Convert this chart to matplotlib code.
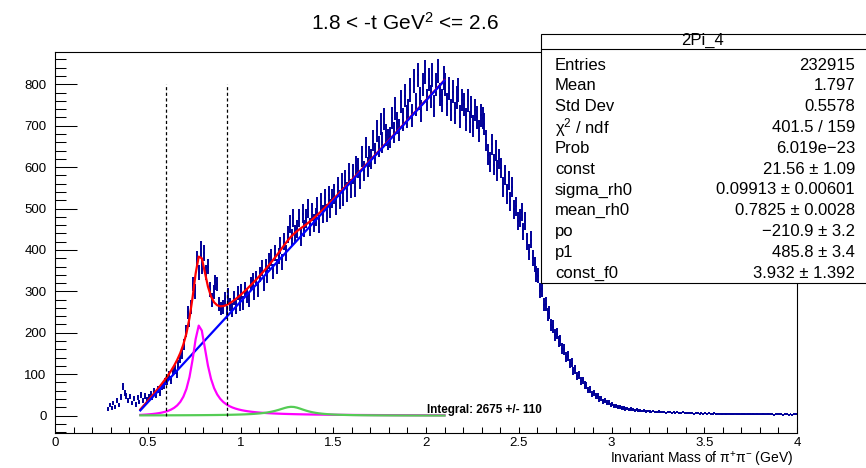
import numpy as np
import matplotlib
matplotlib.use("Agg")
import matplotlib.pyplot as plt
from matplotlib.patches import Rectangle
from matplotlib.lines import Line2D
from matplotlib.ticker import MultipleLocator

# ---- histogram: 0.01 GeV bins starting at 0.28 GeV ----
first_edge = 0.28
bin_width = 0.01
counts = [
    16, 25,
    18, 30, 20, 36, 25, 45, 70, 55, 48, 36,            # 0.30
    46, 30, 42, 27, 44, 33, 50, 36, 47, 38,            # 0.40
    45, 52, 44, 58, 50, 63, 54, 70, 74, 82,            # 0.50
    84, 98, 86, 108, 112, 100, 124, 138, 150, 172,     # 0.60
    205, 250, 228, 262, 318, 300, 378, 346, 402, 362,  # 0.70
    392, 345, 360, 305, 280, 298, 322, 318, 270, 258,  # 0.80
    262, 282, 250, 290, 268, 255, 284, 262, 296, 270,  # 0.90
    300, 272, 306, 288, 280, 318, 326, 296, 330, 305,  # 1.00
    340, 356, 318, 360, 338, 374, 382, 348, 392, 360,  # 1.10
    386, 410, 372, 420, 392, 438, 462, 430, 478, 440,  # 1.20
    450, 478, 430, 488, 452, 476, 500, 455, 492, 465,  # 1.30
    480, 505, 462, 515, 486, 525, 490, 532, 500, 524,  # 1.40
    535, 508, 552, 522, 562, 528, 570, 540, 585, 548,  # 1.50
    584, 552, 602, 598, 570, 625, 590, 648, 600, 626,  # 1.60
    620, 664, 632, 688, 650, 705, 660, 716, 678, 666,  # 1.70
    672, 718, 684, 742, 706, 690, 758, 715, 772, 722,  # 1.80
    738, 786, 725, 808, 752, 822, 765, 735, 800, 830,  # 1.90
    762, 812, 770, 822, 748, 800, 832, 775, 760, 815,  # 2.00
    800, 752, 790, 738, 782, 730, 768, 786, 722, 762,  # 2.10
    752, 715, 760, 708, 745, 700, 738, 720, 688, 725,  # 2.20
    718, 705, 665, 630, 612, 655, 606, 640, 592, 620,  # 2.30
    598, 552, 582, 535, 568, 518, 552, 498, 505, 470,  # 2.40
    478, 492, 445, 470, 420, 395, 425, 380, 365, 342,  # 2.50
    338, 302, 305, 268, 270, 245, 248, 218, 215, 195,  # 2.60
    198, 178, 182, 162, 160, 142, 145, 125, 128, 108,  # 2.70
    112, 96, 98, 84, 85, 74, 72, 62, 63, 53,           # 2.80
    55, 47, 48, 40, 42, 35, 36, 31, 31, 26,            # 2.90
    28, 23, 24, 21, 21, 18, 19, 16, 17, 14,            # 3.00
    16, 14, 13, 14, 12, 12, 11, 12, 10, 11,            # 3.10
    10, 9, 11, 9, 8, 10, 9, 8, 9, 7,                   # 3.20
    8, 9, 7, 8, 7, 8, 6, 7, 8, 6,                      # 3.30
    7, 6, 7, 6, 5, 7, 6, 5, 6, 5,                      # 3.40
    6, 5, 6, 5, 5, 6, 4, 5, 5, 4,                      # 3.50
    5, 4, 5, 5, 4, 4, 5, 4, 4, 3,                      # 3.60
    4, 4, 3, 4, 4, 3, 4, 3, 4, 3,                      # 3.70
    3, 4, 3, 3, 4, 3, 3, 2, 3, 3,                      # 3.80
    3, 3, 2, 3, 3, 2, 3, 2, 3, 3,                      # 3.90
]

# ---- fit parameters ----
P0, P1 = -210.9, 485.8
RHO_CONST, RHO_SIGMA, RHO_MEAN = 21.56, 0.09913, 0.7825
F0_CONST, F0_MASS, F0_WIDTH = 3.932, 1.275, 0.185
FIT_LO, FIT_HI = 0.46, 2.1
WINDOW = [0.6, 0.925]
M_PI = 0.13957

stat_labels = ["Entries", "Mean", "Std Dev", r"$\mathregular{\chi^{2}}$ / ndf", "Prob",
               "const", "sigma_rh0", "mean_rh0", "po", "p1", "const_f0"]
stat_values = ["232915", "1.797", "0.5578", "401.5 / 159", "6.019e\u221223",
               "21.56 \u00b1 1.09", "0.09913 \u00b1 0.00601", "0.7825 \u00b1 0.0028",
               "\u2212210.9 \u00b1 3.2", "485.8 \u00b1 3.4", "3.932 \u00b1 1.392"]
integral_text = "Integral: 2675 +/- 110"

plt.rcParams["font.family"] = ["Liberation Sans", "DejaVu Sans"]
plt.rcParams["mathtext.fontset"] = "custom"
plt.rcParams["mathtext.rm"] = "Liberation Sans"
plt.rcParams["mathtext.it"] = "Liberation Sans"

W, H = 866, 468
fig = plt.figure(figsize=(W / 100, H / 100), dpi=100)


def fx(px):
    return px / W


def fy(py):
    return 1 - py / H


L, R, T, B = 55, 797, 52, 433
ax = fig.add_axes([fx(L), fy(B), (R - L) / W, (B - T) / H])

counts_arr = np.array(counts, dtype=float)
centers = first_edge + bin_width * (np.arange(len(counts_arr)) + 0.5)
navy = "#000099"
ax.errorbar(centers, counts_arr, xerr=bin_width / 2, yerr=np.sqrt(counts_arr),
            fmt="none", ecolor=navy, elinewidth=1.4, capsize=0, zorder=2)


def bw_pwave(m, m0, g0):
    q = np.sqrt(np.clip(m ** 2 / 4 - M_PI ** 2, 0, None))
    q0 = np.sqrt(m0 ** 2 / 4 - M_PI ** 2)
    g = g0 * (q / q0) ** 3 * (m0 / m)
    return (m0 * g) * (m0 * g0) / ((m ** 2 - m0 ** 2) ** 2 + (m0 * g) ** 2)


def bw_const(m, m0, g0):
    return (m0 * g0) ** 2 / ((m ** 2 - m0 ** 2) ** 2 + (m0 * g0) ** 2)


m = np.linspace(FIT_LO, FIT_HI, 100)
bkg = P0 + P1 * m
rho = RHO_CONST / RHO_SIGMA * bw_pwave(m, RHO_MEAN, RHO_SIGMA)
f0 = F0_CONST / F0_WIDTH * bw_const(m, F0_MASS, F0_WIDTH)
total = bkg + rho + f0

ax.plot(m, total, color="#ff0000", lw=1.6, zorder=3)
ax.plot(m, bkg, color="#0000ff", lw=1.6, zorder=4)
ax.plot(m, rho, color="#ff00ff", lw=1.6, zorder=4)
ax.plot(m, f0, color="#55cc55", lw=1.6, zorder=4)

ax.vlines(WINDOW, 0, 800, colors="black", linestyles=(0, (2.5, 2)), lw=0.9, zorder=5)

ax.text(2.003, 6.5, integral_text, fontsize=8.4, fontweight="bold", ha="left",
        va="baseline", zorder=6)

ax.set_xlim(0, 4)
ax.set_ylim(-42, 878)
ax.xaxis.set_minor_locator(MultipleLocator(0.1))
ax.yaxis.set_minor_locator(MultipleLocator(20))
ax.set_xticks(np.arange(0, 4.01, 0.5))
ax.set_xticklabels(["0", "0.5", "1", "1.5", "2", "2.5", "3", "3.5", "4"])
ax.set_yticks(np.arange(0, 801, 100))
ax.set_yticklabels([str(v) for v in range(0, 801, 100)])
ax.tick_params(axis="both", which="both", direction="in", top=False, right=False,
               width=0.75, labelsize=9.5)
ax.tick_params(axis="x", which="both", length=4.2, pad=3)
ax.tick_params(axis="y", which="major", length=16, pad=6)
ax.tick_params(axis="y", which="minor", length=8)
for s in ax.spines.values():
    s.set_linewidth(0.8)

# title
fig.text(fx(405), fy(23), r"1.8 < -t GeV$\mathregular{^{2}}$ <= 2.6", fontsize=15,
         ha="center", va="center")

# axis title
fig.text(fx(793), fy(459.5), r"Invariant Mass of $\mathregular{\pi^{+}\pi^{-}}$ (GeV)",
         fontsize=10, ha="right", va="center")

# statistics box
bx0, by0, by1 = 541, 34, 283
fig.patches.append(Rectangle((fx(bx0), fy(by1)), (W + 5 - bx0) / W, (by1 - by0) / H,
                             transform=fig.transFigure, facecolor="white",
                             edgecolor="black", lw=0.8, zorder=10))
fig.lines.append(Line2D([fx(bx0), 1.0], [fy(49.3), fy(49.3)], transform=fig.transFigure,
                        color="black", lw=0.8, zorder=11))
fig.text(fx(702), fy(40.5), "2Pi_4", fontsize=12, ha="center", va="center", zorder=12)
row0, step = 65.0, 20.83
for i, (lab, val) in enumerate(zip(stat_labels, stat_values)):
    yy = fy(row0 + i * step)
    fig.text(fx(555), yy, lab, fontsize=12, ha="left", va="center", zorder=12)
    fig.text(fx(855), yy, val, fontsize=12, ha="right", va="center", zorder=12)

fig.savefig("out.png", dpi=100)
